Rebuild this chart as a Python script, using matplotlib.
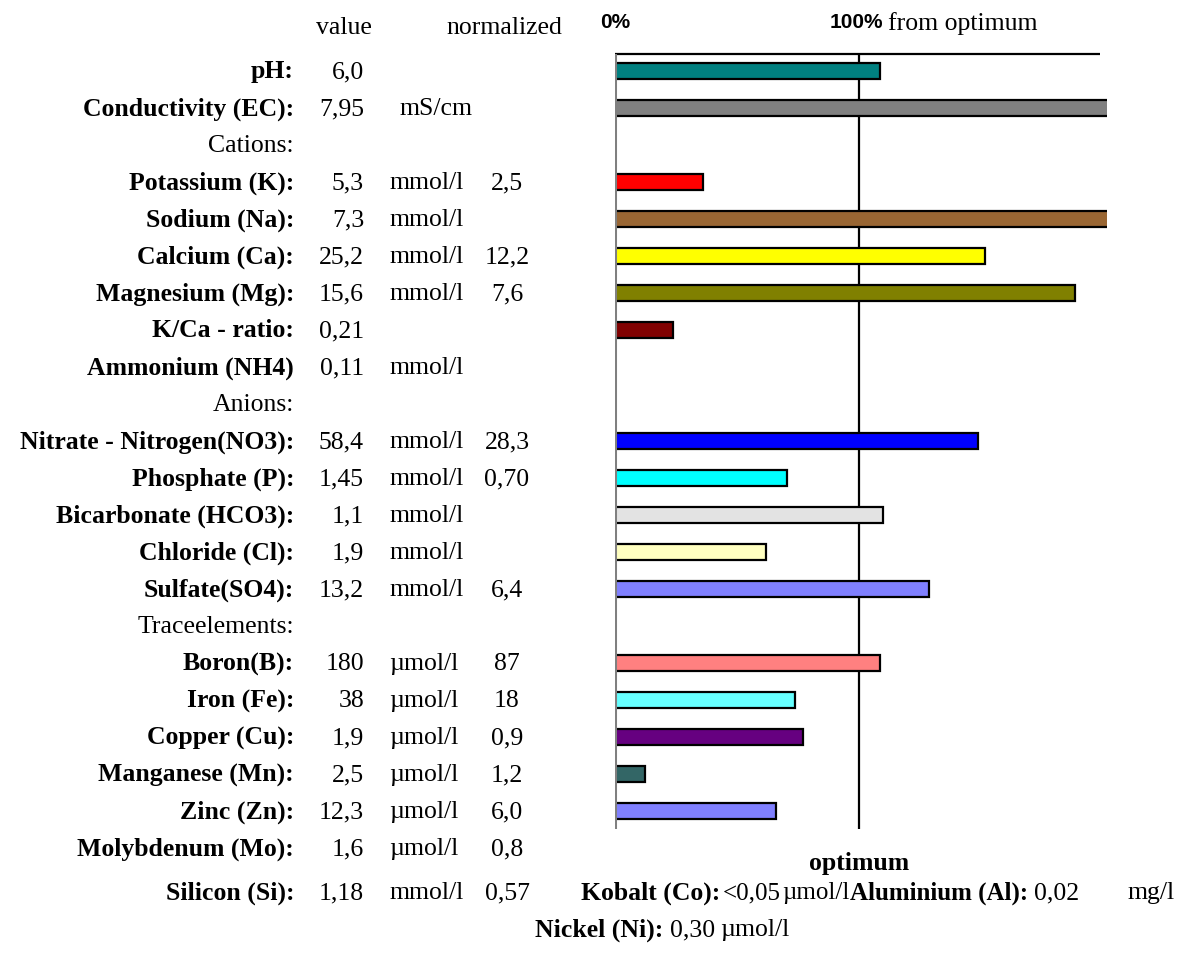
import matplotlib
matplotlib.use("Agg")
import matplotlib.pyplot as plt
import matplotlib.transforms as mtransforms

# DATA
labels = ["pH:", "Conductivity (EC):", "Cations:", "Potassium (K):", "Sodium (Na):",
          "Calcium (Ca):", "Magnesium (Mg):", "K/Ca - ratio:", "Ammonium (NH4)",
          "Anions:", "Nitrate - Nitrogen(NO3):", "Phosphate (P):", "Bicarbonate (HCO3):",
          "Chloride (Cl):", "Sulfate(SO4):", "Traceelements:", "Boron(B):", "Iron (Fe):",
          "Copper (Cu):", "Manganese (Mn):", "Zinc (Zn):", "Molybdenum (Mo):"]
is_section = [False, False, True, False, False, False, False, False, False,
              True, False, False, False, False, False, True, False, False,
              False, False, False, False]
values = ["6,0", "7,95", "", "5,3", "7,3", "25,2", "15,6", "0,21", "0,11",
          "", "58,4", "1,45", "1,1", "1,9", "13,2", "", "180", "38",
          "1,9", "2,5", "12,3", "1,6"]
units = ["", "mS/cm", "", "mmol/l", "mmol/l", "mmol/l", "mmol/l", "", "mmol/l",
         "", "mmol/l", "mmol/l", "mmol/l", "mmol/l", "mmol/l", "", "\u00b5mol/l", "\u00b5mol/l",
         "\u00b5mol/l", "\u00b5mol/l", "\u00b5mol/l", "\u00b5mol/l"]
normalized = ["", "", "", "2,5", "", "12,2", "7,6", "", "",
              "", "28,3", "0,70", "", "", "6,4", "", "87", "18",
              "0,9", "1,2", "6,0", "0,8"]
# percent of optimum (None = no bar); >200 runs off the scale
percent = [109, 230, None, 36, 230, 152, 189, 24, None,
           None, 149, 70.5, 110, 62, 129, None, 109, 74,
           77, 12.5, 66, None]
colors = ["#008080", "#808080", None, "#FF0000", "#996633", "#FFFF00", "#808000", "#800000", None,
          None, "#0000FF", "#00FFFF", "#E3E3E3", "#FFFFC0", "#8080FF", None, "#FF8080", "#66FFFF",
          "#660080", "#336666", "#8080FF", None]

SERIF = "Liberation Serif"
SANS = "Liberation Sans"
FS = 18.5

fig = plt.figure(figsize=(11.84, 9.54), dpi=100)
W, H = 1184, 954
ax = fig.add_axes([615 / W, 1 - 830 / H, 492 / W, 775 / H])
ax.set_xlim(0, 202)
ax.set_ylim(20.486, -0.459)
ax.axis("off")

rows = list(range(len(labels)))
for i in rows:
    if percent[i] is not None:
        ax.barh(i, percent[i], height=0.45, color=colors[i], edgecolor="black",
                linewidth=1.6, zorder=3)

ax.axvline(0, color="#808080", lw=2.2, zorder=4)
ax.axvline(100, color="black", lw=1.6, zorder=2)
ax.hlines(-0.459, 0, 199, color="black", lw=1.6, clip_on=False)

tr = mtransforms.blended_transform_factory(fig.transFigure, ax.transData)


def put(px, row, s, ha="left", bold=False, family=SERIF, size=FS):
    ax.text(px / W, row, s, transform=tr, ha=ha, va="center", fontsize=size,
            family=family, fontweight="bold" if bold else "normal", clip_on=False)


# table
for i in rows:
    put(294, i, labels[i], ha="right", bold=not is_section[i])
    if values[i]:
        put(364, i, values[i], ha="right")
    if units[i]:
        put(400 if units[i] == "mS/cm" else 389, i, units[i])
    if normalized[i]:
        put(507, i, normalized[i], ha="center")

# header
put(344, -1.2, "value", ha="center")
put(504, -1.2, "normalized", ha="center")
put(615, -1.35, "0%", ha="center", bold=True, family=SANS, size=15)
put(883, -1.35, "100%", ha="right", bold=True, family=SANS, size=15)
put(888, -1.3, "from optimum")

# bottom lines
put(859, 21.4, "optimum", ha="center", bold=True)
put(294, 22.2, "Silicon (Si):", ha="right", bold=True)
put(364, 22.2, "1,18", ha="right")
put(389, 22.2, "mmol/l")
put(530, 22.2, "0,57", ha="right")
put(720, 22.2, "Kobalt (Co):", ha="right", bold=True)
put(723, 22.2, "<0,05", size=18)
put(782, 22.2, "\u00b5mol/l", size=18)
put(1028, 22.2, "Aluminium (Al):", ha="right", bold=True, size=18)
put(1034, 22.2, "0,02")
put(1128, 22.2, "mg/l")
put(663, 23.2, "Nickel (Ni):", ha="right", bold=True)
put(670, 23.2, "0,30")
put(720, 23.2, "\u00b5mol/l")

fig.savefig("out.png", dpi=100)
